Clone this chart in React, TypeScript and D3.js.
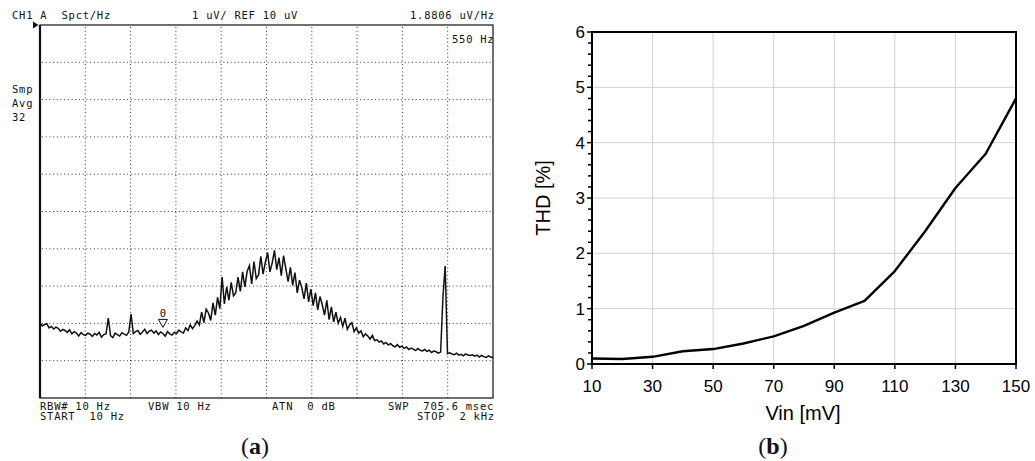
import React from "react";
import * as d3 from "d3";

// ---------- Panel (a): spectrum analyzer trace ----------
const specStartHz = 10;
const specStopHz = 2000;
const specStepHz = 10;
// amplitude in uV, one value every 10 Hz from 10 Hz
const specValues: number[] = [
  2.02, 1.93, 1.97, 1.99, 1.88, 1.92, 1.85, 1.9, 1.87, 1.79,
  1.84, 1.81, 1.76, 1.83, 1.72, 1.78, 1.74, 1.66, 1.75, 1.7,
  1.68, 1.74, 1.71, 1.65, 1.73, 1.69, 1.76, 1.63, 1.7, 1.72,
  2.14, 1.67, 1.62, 1.74, 1.7, 1.66, 1.75, 1.71, 1.68, 1.77,
  2.25, 1.73, 1.78, 1.81, 1.71, 1.77, 1.84, 1.73, 1.79, 1.82,
  1.74, 1.8, 1.7, 1.77, 1.73, 1.66, 1.78, 1.72, 1.69, 1.76,
  1.73, 1.82, 1.77, 1.74, 1.88, 1.81, 1.96, 1.86, 1.94, 2.06,
  1.96, 2.3, 2.02, 2.38, 2.28, 2.08, 2.55, 2.22, 2.7, 2.4,
  3.24, 2.52, 2.98, 2.62, 3.1, 2.74, 2.82, 3.24, 2.86, 3.38,
  2.98, 3.4, 3.55, 3.06, 3.66, 3.2, 3.3, 3.8, 3.32, 3.64,
  3.9, 3.38, 3.62, 3.96, 3.44, 3.76, 3.28, 3.82, 3.46, 3.12,
  3.5, 3.02, 3.36, 2.82, 3.16, 2.96, 2.66, 3.08, 2.58, 2.92,
  2.48, 2.82, 2.36, 2.72, 2.5, 2.22, 2.62, 2.1, 2.44, 2.04,
  2.3, 2.0, 2.16, 1.92, 2.14, 1.84, 1.96, 2.02, 1.78, 1.88,
  1.74, 1.8, 1.64, 1.72, 1.66, 1.58, 1.68, 1.54, 1.56, 1.5,
  1.53, 1.45, 1.49, 1.42, 1.46, 1.4, 1.37, 1.43, 1.36, 1.39,
  1.33, 1.37, 1.3, 1.34, 1.31, 1.27, 1.33, 1.28, 1.26, 1.3,
  1.25, 1.28, 1.22, 1.26, 1.24, 1.2, 1.23, 2.7, 3.54, 1.19,
  1.21, 1.18, 1.16, 1.2, 1.15, 1.17, 1.13, 1.18, 1.15, 1.14,
  1.16, 1.12, 1.15, 1.1, 1.14, 1.11, 1.09, 1.13, 1.1, 1.08,
];
const refLevel = 10; // uV
const divisions = 10;
const markerHz = 550;
const markerLevel = 1.92;

const headerLeft = "CH1 A  Spct/Hz";
const headerMid = "1 uV/ REF 10 uV";
const headerRight = "1.8806 uV/Hz";
const markerText = "550 Hz";
const sideLines = ["Smp", "Avg", "32"];
const footRow1 = [
  { t: "RBW# 10 Hz", x: 40 },
  { t: "VBW 10 Hz", x: 148 },
  { t: "ATN  0 dB", x: 272 },
  { t: "SWP  705.6 msec", x: 388 },
];
const footRow2 = [
  { t: "START  10 Hz", x: 40 },
  { t: "STOP  2 kHz", x: 417 },
];

// ---------- Panel (b): THD vs Vin ----------
const vin = [10, 20, 30, 40, 50, 60, 70, 80, 90, 100, 110, 120, 130, 140, 150];
const thd = [0.1, 0.09, 0.13, 0.23, 0.27, 0.37, 0.5, 0.69, 0.93, 1.14, 1.68, 2.4, 3.18, 3.8, 4.8];
const xTicksB = [10, 30, 50, 70, 90, 110, 130, 150];
const yTicksB = [0, 1, 2, 3, 4, 5, 6];

const mono = "'DejaVu Sans Mono', 'Liberation Mono', monospace";
const sans = "'Liberation Sans', Arial, sans-serif";
const serif = "'Liberation Serif', 'DejaVu Serif', serif";

export default function App() {
  // Panel a scales
  const xA = d3.scaleLinear().domain([specStartHz, specStopHz]).range([40, 493]);
  const yA = d3.scaleLinear().domain([0, refLevel]).range([398, 25]);
  const specData = specValues.map((v, i) => ({ f: specStartHz + i * specStepHz, v }));
  const specLine = d3
    .line<{ f: number; v: number }>()
    .x((d) => xA(d.f))
    .y((d) => yA(d.v));
  const vGrid = d3.range(1, divisions).map((k) => specStartHz + (k * (specStopHz - specStartHz)) / divisions);
  const hGrid = d3.range(1, divisions).map((k) => (k * refLevel) / divisions);

  // Panel b scales
  const xB = d3.scaleLinear().domain([10, 150]).range([592, 1016]);
  const yB = d3.scaleLinear().domain([0, 6]).range([364, 32]);
  const thdLine = d3
    .line<number>()
    .x((_, i) => xB(vin[i]))
    .y((d) => yB(d));
  const minorY = d3.range(0, 6.001, 0.2).map((v) => Math.round(v * 10) / 10);

  const mx = xA(markerHz);
  const my = yA(markerLevel);
  const pre = { whiteSpace: "pre" as const };

  return (
    <svg
      width={1035}
      height={461}
      style={{ position: "absolute", left: 0, top: 0, background: "#fff" }}
    >
      <rect x={0} y={0} width={1035} height={461} fill="#fff" />
      {/* ===== Panel (a) ===== */}
      <g fontFamily={mono} fontSize={10.5} letterSpacing={0.75} fill="#111" style={pre}>
        <text x={12} y={19} style={pre}>{headerLeft}</text>
        <text x={192} y={19} style={pre}>{headerMid}</text>
        <text x={410} y={19} style={pre}>{headerRight}</text>
        <text x={452} y={43} style={pre}>{markerText}</text>
        {sideLines.map((s, i) => (
          <text key={s} x={12} y={93 + i * 14} style={pre}>{s}</text>
        ))}
        {footRow1.map((d) => (
          <text key={d.t} x={d.x} y={410} style={pre}>{d.t}</text>
        ))}
        {footRow2.map((d) => (
          <text key={d.t} x={d.x} y={420} style={pre}>{d.t}</text>
        ))}
      </g>
      <g stroke="#333" strokeWidth={1} strokeDasharray="1,2.7">
        {vGrid.map((f) => (
          <line key={"v" + f} x1={xA(f)} x2={xA(f)} y1={yA(refLevel) + 2} y2={yA(0)} />
        ))}
        {hGrid.map((v) => (
          <line key={"h" + v} x1={xA(specStartHz) + 2} x2={xA(specStopHz)} y1={yA(v)} y2={yA(v)} />
        ))}
      </g>
      <rect
        x={xA(specStartHz)}
        y={yA(refLevel)}
        width={xA(specStopHz) - xA(specStartHz)}
        height={yA(0) - yA(refLevel)}
        fill="none"
        stroke="#222"
        strokeWidth={1.3}
      />
      <line x1={xA(specStartHz)} x2={xA(specStartHz)} y1={yA(refLevel)} y2={yA(0)} stroke="#111" strokeWidth={2.2} />
      <path
        d={`M${xA(specStartHz) - 7},${yA(refLevel) - 3.5} L${xA(specStartHz) - 1.5},${yA(refLevel)} L${xA(specStartHz) - 7},${yA(refLevel) + 3.5} Z`}
        fill="#111"
      />
      <path d={specLine(specData) || ""} fill="none" stroke="#111" strokeWidth={1.5} strokeLinejoin="miter" />
      {/* marker */}
      <text x={mx} y={my - 9} textAnchor="middle" fontFamily={mono} fontSize={10.5} fill="#111">0</text>
      <path d={`M${mx - 4.5},${my - 7} L${mx + 4.5},${my - 7} L${mx},${my + 1} Z`} fill="#fff" stroke="#111" strokeWidth={1} />

      <text x={255} y={454} textAnchor="middle" fontFamily={serif} fontSize={24} fill="#111">
        (<tspan fontWeight="bold">a</tspan>)
      </text>

      {/* ===== Panel (b) ===== */}
      <g stroke="#d2d2d2" strokeWidth={1}>
        {xTicksB.slice(1, -1).map((t) => (
          <line key={"gx" + t} x1={xB(t)} x2={xB(t)} y1={yB(6)} y2={yB(0)} />
        ))}
        {yTicksB.slice(1, -1).map((t) => (
          <line key={"gy" + t} x1={xB(10)} x2={xB(150)} y1={yB(t)} y2={yB(t)} />
        ))}
      </g>
      <path d={thdLine(thd) || ""} fill="none" stroke="#000" strokeWidth={2.4} strokeLinejoin="round" />
      <rect x={xB(10)} y={yB(6)} width={xB(150) - xB(10)} height={yB(0) - yB(6)} fill="none" stroke="#000" strokeWidth={2} />
      <g stroke="#000" strokeWidth={1.5}>
        {minorY.map((v) => (
          <line key={"my" + v} x1={xB(10) - (Number.isInteger(v) ? 5 : 4)} x2={xB(10)} y1={yB(v)} y2={yB(v)} />
        ))}
        {xTicksB.map((t) => (
          <line key={"tx" + t} x1={xB(t)} x2={xB(t)} y1={yB(0)} y2={yB(0) + 5} />
        ))}
      </g>
      <g fontFamily={sans} fontSize={17} fill="#000">
        {yTicksB.map((t) => (
          <text key={"ly" + t} x={xB(10) - 7} y={yB(t) + 6} textAnchor="end">{t}</text>
        ))}
        {xTicksB.map((t) => (
          <text key={"lx" + t} x={xB(t)} y={392} textAnchor="middle">{t}</text>
        ))}
      </g>
      <text x={803} y={420} textAnchor="middle" fontFamily={sans} fontSize={20} fill="#000">Vin [mV]</text>
      <text
        transform={`translate(550, ${(yB(0) + yB(6)) / 2}) rotate(-90)`}
        textAnchor="middle"
        fontFamily={sans}
        fontSize={20}
        fill="#000"
      >
        THD [%]
      </text>
      <text x={773} y={454} textAnchor="middle" fontFamily={serif} fontSize={24} fill="#111">
        (<tspan fontWeight="bold">b</tspan>)
      </text>
    </svg>
  );
}
